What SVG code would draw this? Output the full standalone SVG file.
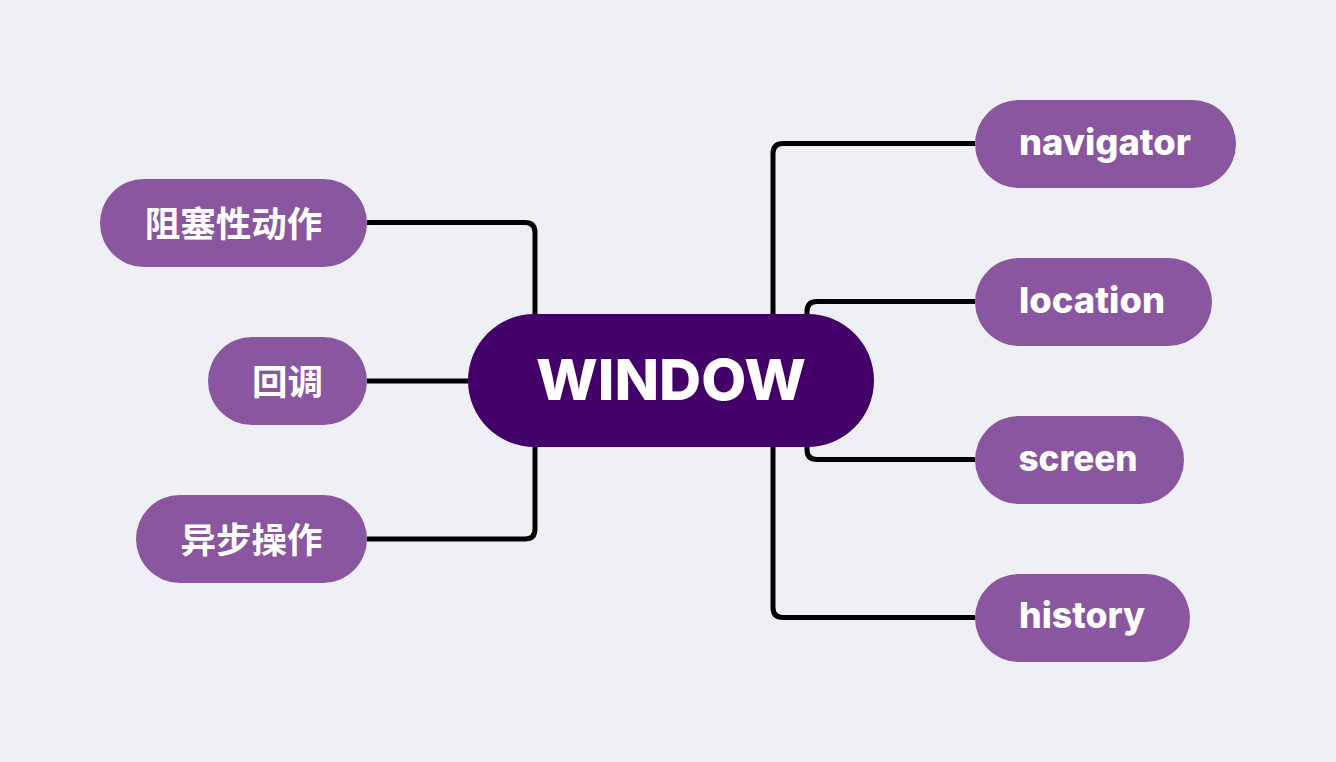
<svg xmlns="http://www.w3.org/2000/svg" width="1336" height="762" viewBox="0 0 1336 762">
  <style>
    .conn { fill: none; stroke: #000000; stroke-width: 5; stroke-linejoin: round; }
    .leaf { fill: #8a56a0; }
    .root { fill: #440069; }
    .lat { font-family: "Inter", "Open Sans", "Liberation Sans", sans-serif; font-weight: 800; fill: #ffffff; text-anchor: middle; }
    .cjk { font-family: "Noto Sans CJK SC", "Noto Sans", sans-serif; font-weight: 700; fill: #ffffff; text-anchor: middle; font-size: 35.5px; }
  </style>
  <rect x="0" y="0" width="1336" height="762" fill="#eef0f5"/>
  <g id="connectors">
    <path class="conn" d="M367 222.5 H525 Q535 222.5 535 232.5 V330"/>
    <path class="conn" d="M367 381 H480"/>
    <path class="conn" d="M367 539 H525 Q535 539 535 529 V430"/>
    <path class="conn" d="M975 143.5 H783 Q773 143.5 773 153.5 V330"/>
    <path class="conn" d="M975 301.5 H817 Q807 301.5 807 311.5 V330"/>
    <path class="conn" d="M975 459.5 H817 Q807 459.5 807 449.5 V430"/>
    <path class="conn" d="M975 617.5 H783 Q773 617.5 773 607.5 V430"/>
  </g>
  <g id="window">
    <rect class="root" x="468" y="314" width="406" height="133" rx="66.5"/>
    <text class="lat" x="671" y="400" font-size="57" textLength="270" lengthAdjust="spacingAndGlyphs">WINDOW</text>
  </g>
  <g id="blocking">
    <rect class="leaf" x="100" y="179" width="267" height="88" rx="44"/>
    <text class="cjk" x="233.5" y="236.5">阻塞性动作</text>
  </g>
  <g id="callback">
    <rect class="leaf" x="208" y="337" width="159" height="88" rx="44"/>
    <text class="cjk" x="287.5" y="394.5">回调</text>
  </g>
  <g id="async">
    <rect class="leaf" x="136" y="495" width="231" height="88" rx="44"/>
    <text class="cjk" x="251.5" y="552.5">异步操作</text>
  </g>
  <g id="navigator">
    <rect class="leaf" x="975" y="100" width="261" height="88" rx="44"/>
    <text class="lat" x="1105" y="155" font-size="36" textLength="172" lengthAdjust="spacingAndGlyphs">navigator</text>
  </g>
  <g id="location">
    <rect class="leaf" x="975" y="258" width="237" height="88" rx="44"/>
    <text class="lat" x="1092" y="313" font-size="36" textLength="146" lengthAdjust="spacingAndGlyphs">location</text>
  </g>
  <g id="screen">
    <rect class="leaf" x="975" y="416" width="209" height="88" rx="44"/>
    <text class="lat" x="1078" y="471" font-size="36" textLength="119" lengthAdjust="spacingAndGlyphs">screen</text>
  </g>
  <g id="history">
    <rect class="leaf" x="975" y="574" width="215" height="88" rx="44"/>
    <text class="lat" x="1082" y="628" font-size="36" textLength="126" lengthAdjust="spacingAndGlyphs">history</text>
  </g>
</svg>
